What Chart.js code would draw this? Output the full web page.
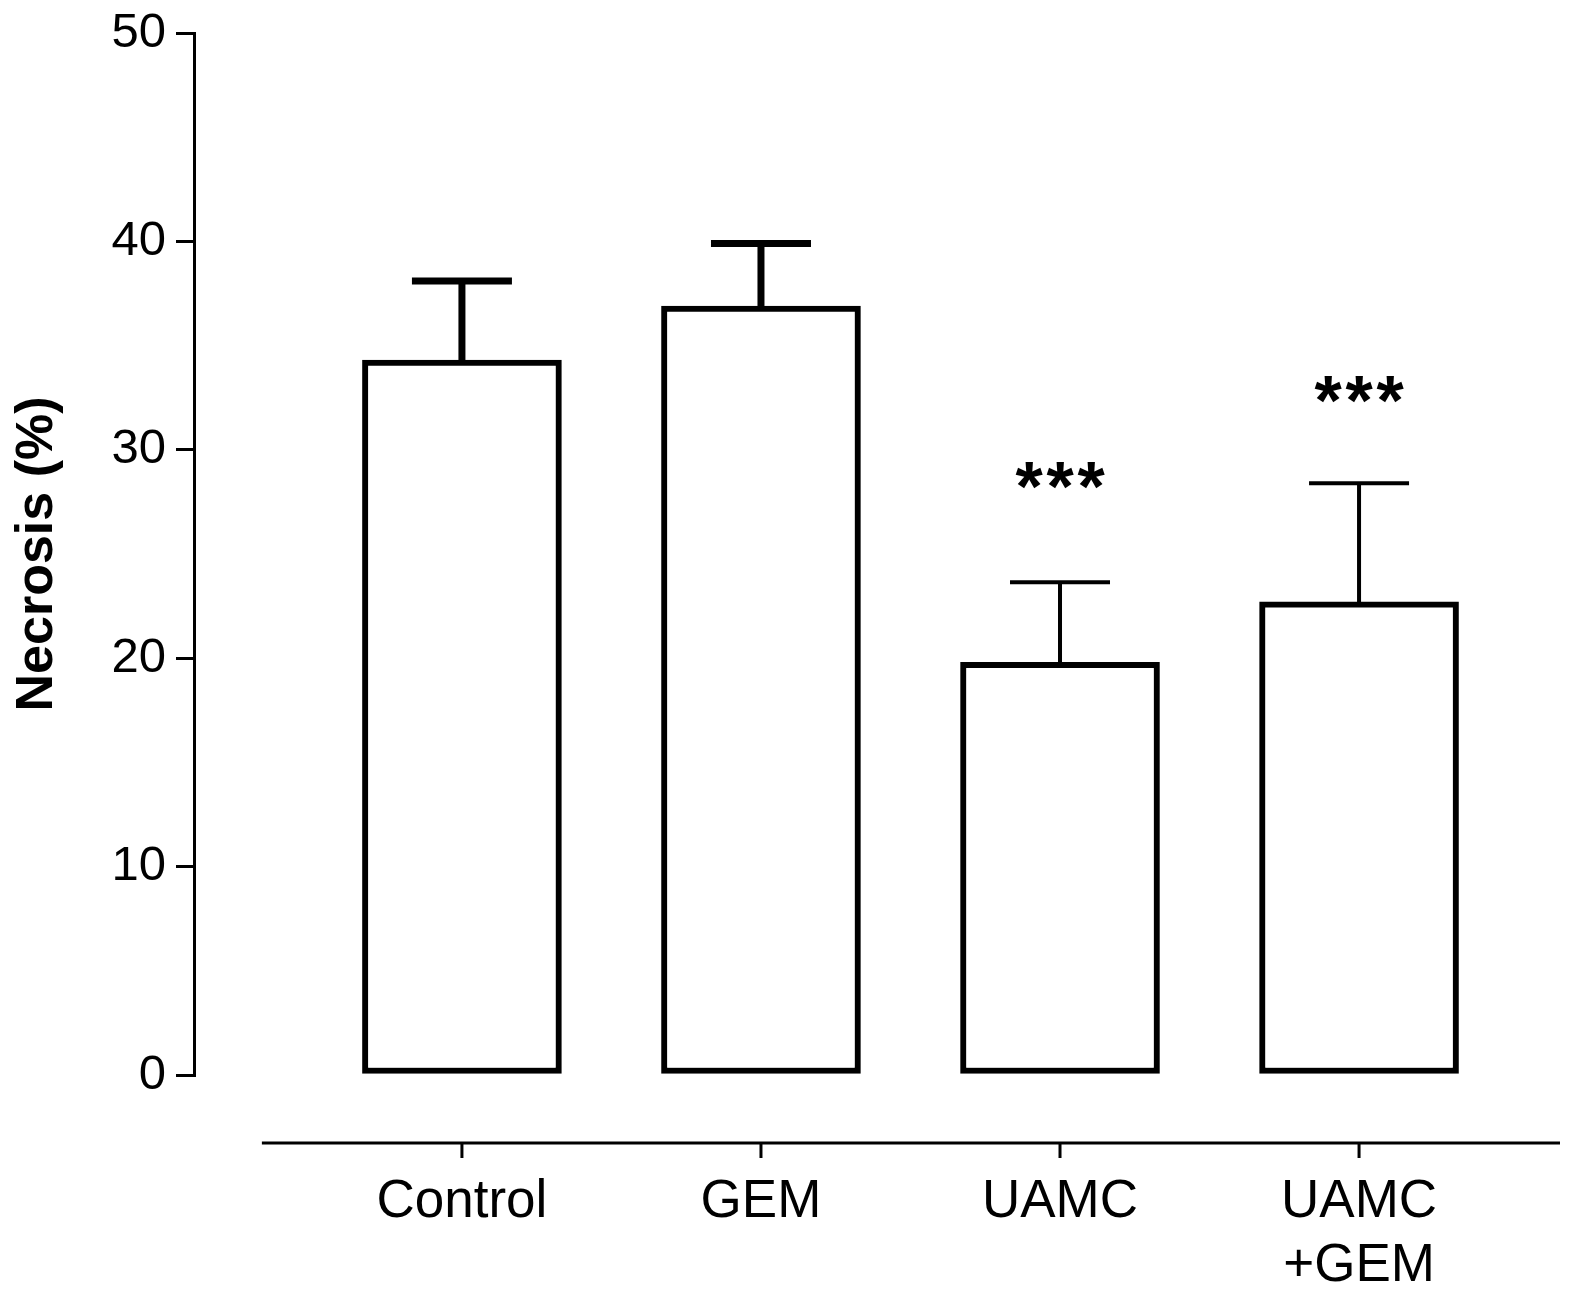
<!DOCTYPE html>
<html>
<head>
<meta charset="utf-8">
<script src="https://cdn.jsdelivr.net/npm/chart.js@4"></script>
<style>
  html, body { margin: 0; padding: 0; background: #fff; }
  #wrap { width: 1575px; height: 1289px; }
</style>
</head>
<body>
<div id="wrap"><canvas id="chart" width="1575" height="1289"></canvas></div>
<script>
// values
const categories = ['Control', 'GEM', 'UAMC', ['UAMC', '+GEM']];
const necrosis = [34.3, 36.9, 19.8, 22.7];
const errTop = [38.1, 39.9, 23.65, 28.4];
const sigMarks = ['', '', '***', '***'];
const sigLevel = [null, null, 28.8, 32.9];
const yTicks = [0, 10, 20, 30, 40, 50];

const FONT = '"Liberation Sans", Arial, sans-serif';
const errLineW = [7, 7, 4, 4];

// error bars, significance stars and the detached category axis
const extras = {
  id: 'extras',
  afterDatasetsDraw(chart) {
    const { ctx, chartArea } = chart;
    const x = chart.scales.x, y = chart.scales.y;
    const bars = chart.getDatasetMeta(0).data;
    ctx.save();
    ctx.strokeStyle = '#000';
    ctx.lineCap = 'butt';
    bars.forEach((bar, i) => {
      const cap = y.getPixelForValue(errTop[i]);
      ctx.lineWidth = errLineW[i];
      ctx.beginPath();
      ctx.moveTo(bar.x, bar.y);
      ctx.lineTo(bar.x, cap);
      ctx.moveTo(bar.x - 50, cap);
      ctx.lineTo(bar.x + 50, cap);
      ctx.stroke();
      if (sigMarks[i]) {
        ctx.fillStyle = '#000';
        ctx.font = 'bold 70px ' + FONT;
        ctx.textAlign = 'center';
        ctx.textBaseline = 'alphabetic';
        const n = sigMarks[i].length;
        const base = y.getPixelForValue(sigLevel[i]) + 36;
        for (let k = 0; k < n; k++) {
          ctx.fillText('*', bar.x + (k - (n - 1) / 2) * 31, base);
        }
      }
    });
    // x axis drawn below the plot
    const axY = chartArea.bottom + 68;
    ctx.lineWidth = 3;
    ctx.beginPath();
    ctx.moveTo(x.getPixelForValue(-0.669), axY);
    ctx.lineTo(chartArea.right, axY);
    categories.forEach((c, i) => {
      const px = x.getPixelForValue(i);
      ctx.moveTo(px, axY);
      ctx.lineTo(px, axY + 15);
    });
    ctx.stroke();
    ctx.restore();
  }
};

new Chart(document.getElementById('chart'), {
  type: 'bar',
  data: {
    datasets: [{
      data: necrosis.map((v, i) => ({ x: i, y: v })),
      backgroundColor: '#fff',
      borderColor: '#000',
      borderWidth: 6,
      borderSkipped: false,
      barThickness: 199
    }]
  },
  options: {
    responsive: false,
    animation: false,
    devicePixelRatio: 1,
    layout: { padding: { top: 33, right: 15, bottom: 0, left: 0 } },
    plugins: { legend: { display: false }, tooltip: { enabled: false } },
    scales: {
      x: {
        type: 'linear',
        offset: false,
        min: -0.896,
        max: 3.672,
        grid: { display: false },
        border: { display: false },
        afterFit: (s) => { s.height = 214; s.paddingLeft = 0; s.paddingRight = 0; },
        ticks: {
          stepSize: 1,
          includeBounds: false,
          autoSkip: false,
          maxRotation: 0,
          padding: 88,
          color: '#000',
          font: { family: FONT, size: 53 },
          callback: (v) => (Number.isInteger(v) && categories[v]) ? categories[v] : ''
        }
      },
      y: {
        min: 0,
        max: 50,
        afterFit: (s) => { s.width = 194; s.paddingTop = 0; s.paddingBottom = 0; },
        afterBuildTicks: (s) => { s.ticks = yTicks.map(v => ({ value: v })); },
        grid: { drawOnChartArea: false, drawTicks: true, tickLength: 18, lineWidth: 3, color: '#000' },
        border: { display: true, width: 3, color: '#000' },
        ticks: {
          padding: 10,
          color: '#000',
          font: { family: FONT, size: 49 }
        },
        title: {
          display: true,
          text: 'Necrosis (%)',
          color: '#000',
          padding: { top: 6, bottom: 0 },
          font: { family: FONT, size: 52, weight: 'bold' }
        }
      }
    }
  },
  plugins: [extras]
});
</script>
</body>
</html>
